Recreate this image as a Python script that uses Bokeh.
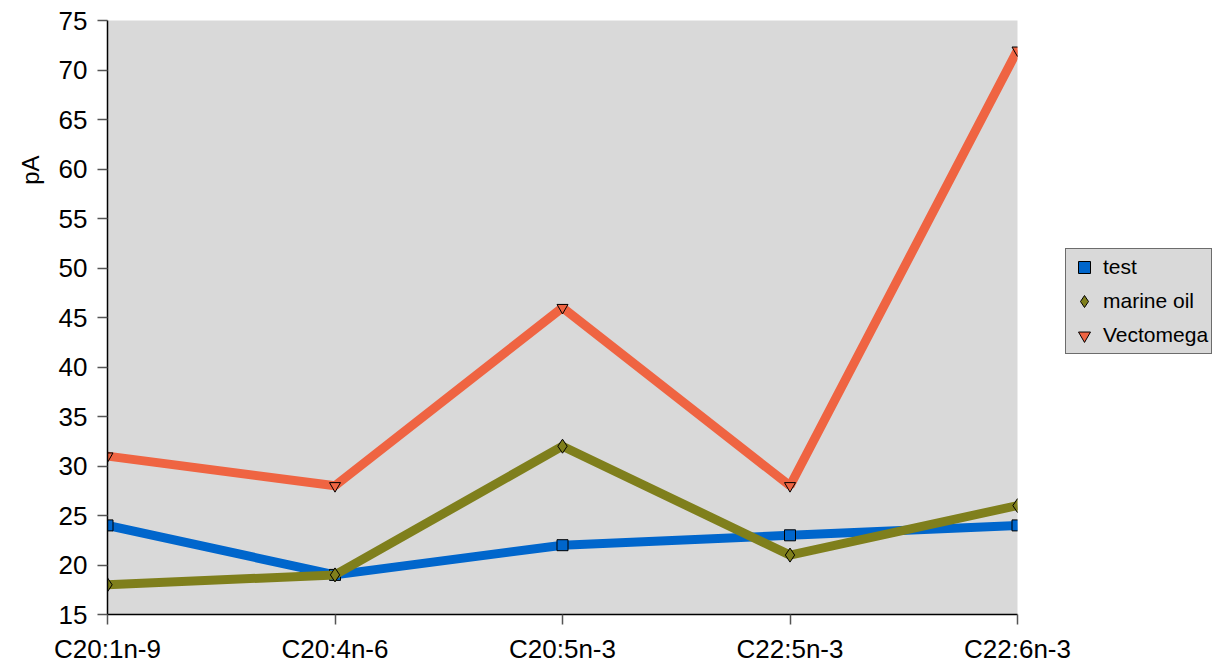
from bokeh.plotting import figure
from bokeh.models import (Range1d, FixedTicker, Legend, LegendItem, Title)
from bokeh.embed import file_html
from bokeh.resources import INLINE

categories = ["C20:1n-9", "C20:4n-6", "C20:5n-3", "C22:5n-3", "C22:6n-3"]
test = [24, 19, 22, 23, 24]
marine_oil = [18, 19, 32, 21, 26]
vectomega = [31, 28, 46, 28, 72]
y_ticks = [15, 20, 25, 30, 35, 40, 45, 50, 55, 60, 65, 70, 75]

FONT = "Liberation Sans"
xs = list(range(len(categories)))

p = figure(frame_width=910, frame_height=594, output_backend="svg",
           toolbar_location=None,
           x_range=Range1d(0, len(categories) - 1), y_range=Range1d(15, 75),
           min_border_left=107, min_border_top=20, min_border_bottom=48,
           min_border_right=203)
p.background_fill_color = "#d9d9d9"
p.border_fill_color = "white"
p.outline_line_color = None
p.xgrid.grid_line_color = None
p.ygrid.grid_line_color = None

for ax in (p.xaxis[0], p.yaxis[0]):
    ax.axis_line_color = "black"
    ax.axis_line_width = 1.5
    ax.major_tick_line_color = "#555555"
    ax.major_tick_line_width = 1.5
    ax.major_tick_out = 10
    ax.major_tick_in = 0
    ax.minor_tick_line_color = None
    ax.major_label_text_font = FONT
    ax.major_label_text_font_size = "26px"
    ax.major_label_text_color = "black"

p.xaxis.ticker = FixedTicker(ticks=xs)
p.xaxis.major_label_overrides = {i: c for i, c in enumerate(categories)}
p.xaxis.major_label_standoff = 9
p.yaxis.ticker = FixedTicker(ticks=y_ticks)
p.yaxis.major_label_standoff = 10

series = [
    ("test", test, "#0066cc", "square"),
    ("marine oil", marine_oil, "#7f7f1c", "diamond"),
    ("Vectomega", vectomega, "#ef6442", "inverted_triangle"),
]
items = []
for name, vals, color, marker in series:
    p.line(xs, vals, line_color=color, line_width=9)
    size = 14 if marker == "diamond" else 11
    r = p.scatter(xs, vals, marker=marker, size=size, fill_color=color,
                  line_color="black", line_width=1)
    items.append(LegendItem(label=name, renderers=[r]))

legend = Legend(items=items, location=(48, 260), margin=0,
                background_fill_color="#d9d9d9", background_fill_alpha=1,
                border_line_color="black", border_line_width=1.5,
                label_text_font=FONT, label_text_font_size="21px",
                label_text_color="black",
                glyph_width=30, glyph_height=30, spacing=4, padding=3,
                label_standoff=4)
p.add_layout(legend, "right")

p.add_layout(Title(text="pA", align="right", offset=135, standoff=24,
                   text_font=FONT, text_color="black",
                   text_font_size="24px", text_font_style="normal"), "left")

open("out.html", "w").write(file_html(p, INLINE))
